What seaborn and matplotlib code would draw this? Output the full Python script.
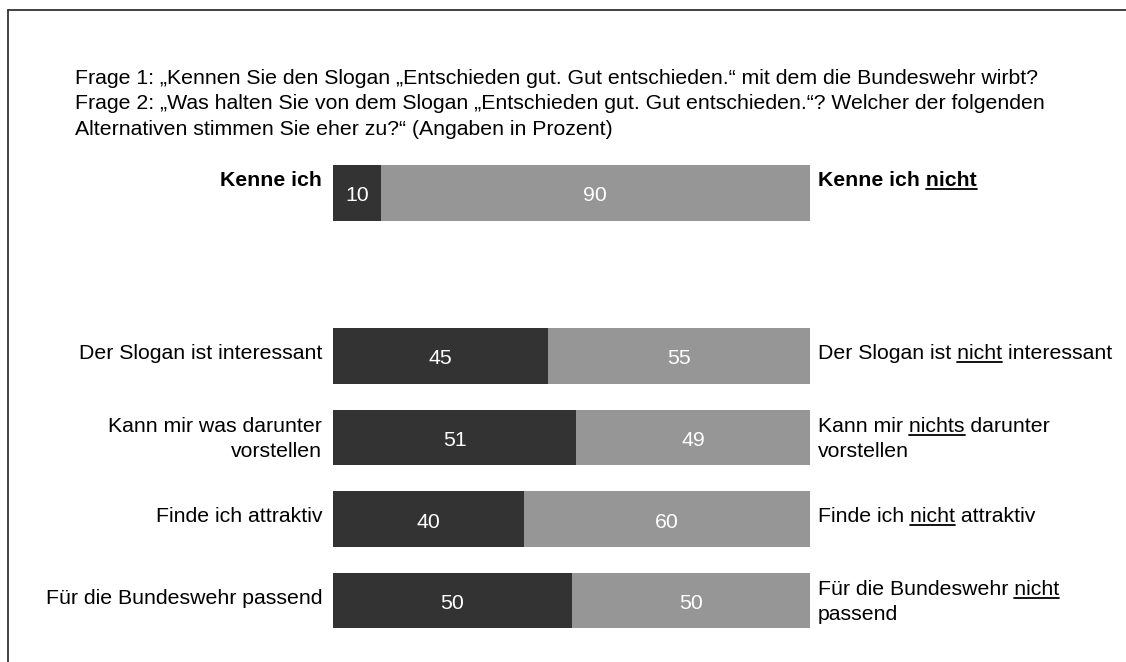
import matplotlib
matplotlib.use('Agg')
import numpy as np
import pandas as pd
import seaborn as sns
from matplotlib import pyplot as plt
from matplotlib.lines import Line2D

# data
left_labels = ["Kenne ich", "Der Slogan ist interessant", "Kann mir was darunter\nvorstellen",
               "Finde ich attraktiv", "Für die Bundeswehr passend"]
right_labels = ["Kenne ich nicht", "Der Slogan ist nicht interessant", "Kann mir nichts darunter\nvorstellen",
                "Finde ich nicht attraktiv", "Für die Bundeswehr nicht\npassend"]
yes_vals = [10, 45, 51, 40, 50]
no_vals = [90, 55, 49, 60, 50]
title = ("Frage 1: „Kennen Sie den Slogan „Entschieden gut. Gut entschieden.“ mit dem die Bundeswehr wirbt?\n"
         "Frage 2: „Was halten Sie von dem Slogan „Entschieden gut. Gut entschieden.“? Welcher der folgenden\n"
         "Alternativen stimmen Sie eher zu?“ (Angaben in Prozent)")

DARK = "#333333"
LIGHT = "#969696"
FS = 15.3

sns.set_style("white")
plt.rcParams['font.family'] = ['Liberation Sans', 'DejaVu Sans']

W, H = 1126, 662
fig = plt.figure(figsize=(W / 100, H / 100), dpi=100)
# axes: x 0..100 -> px 333..810, y px 150..650
ax = fig.add_axes([333 / W, (H - 650) / H, 477 / W, 500 / H])

df = pd.DataFrame({"item": left_labels, "yes": yes_vals,
                   "total": [a + b for a, b in zip(yes_vals, no_vals)]})
order = [left_labels[0], " "] + left_labels[1:]

sns.barplot(data=df, x="total", y="item", order=order, color=LIGHT, saturation=1,
            width=0.675, linewidth=0, errorbar=None, orient="h", ax=ax)
sns.barplot(data=df, x="yes", y="item", order=order, color=DARK, saturation=1,
            width=0.675, linewidth=0, errorbar=None, orient="h", ax=ax)

ax.set_xlim(0, 100)
PX = 81.5  # pixels per row unit
ax.set_ylim((650 - 193) / PX, (150 - 193) / PX)
ax.axis("off")

positions = [order.index(lab) for lab in left_labels]

# value labels
for pos, y, n in zip(positions, yes_vals, no_vals):
    ax.text(y / 2, pos + 3 / PX, str(y), color="white", fontsize=FS, ha="center", va="center")
    ax.text(y + n / 2, pos + 3 / PX, str(n), color="white", fontsize=FS, ha="center", va="center")

fig.canvas.draw()
renderer = fig.canvas.get_renderer()
to_fig = fig.transFigure.inverted()


def draw_label(x, pos, label, ha, weight, shift_px):
    lines = label.split("\n")
    n = len(lines)
    pitch = 25 / PX
    for k, line in enumerate(lines):
        yc = pos + (k - (n - 1) / 2) * pitch + shift_px / PX
        base = yc + 7 / PX
        t = ax.text(x, base, line, fontsize=FS, ha=ha, va="baseline", fontweight=weight,
                    color="black", clip_on=False)
        word = "nichts" if "nichts" in line else ("nicht" if "nicht" in line else None)
        if word:
            i = line.index(word)
            prefix = line[:i]
            props = t.get_fontproperties()
            w_full, _, _ = renderer.get_text_width_height_descent(prefix + word, props, ismath=False)
            w_word, _, _ = renderer.get_text_width_height_descent(word, props, ismath=False)
            x0_disp, yb_disp = ax.transData.transform((x, base))
            x_start = x0_disp + w_full - w_word
            x_end = x0_disp + w_full
            yl = yb_disp - 3
            p0 = to_fig.transform((x_start, yl))
            p1 = to_fig.transform((x_end, yl))
            fig.add_artist(Line2D([p0[0], p1[0]], [p0[1], p1[1]], color="black", lw=1.3))


for idx, (pos, ll, rl) in enumerate(zip(positions, left_labels, right_labels)):
    weight = "bold" if idx == 0 else "normal"
    if idx == 0:
        shift = -14
    elif "\n" not in ll:
        shift = -4
    else:
        shift = 0
    draw_label(-2.3, pos, ll, "right", weight, shift)
    shift_r = -14 if idx == 0 else (-4 if "\n" not in rl else 0)
    draw_label(101.7, pos, rl, "left", weight, shift_r)

# title
fig.text(75 / W, 1 - 69 / H, title, fontsize=FS, ha="left", va="top", linespacing=1.43, color="black")

# frame (top and left edges)
fig.add_artist(Line2D([8 / W, 1.0], [1 - 10 / H, 1 - 10 / H], color="#333333", lw=1.3))
fig.add_artist(Line2D([8 / W, 8 / W], [0, 1 - 10 / H], color="#333333", lw=1.3))

fig.savefig("out.png", dpi=100)
